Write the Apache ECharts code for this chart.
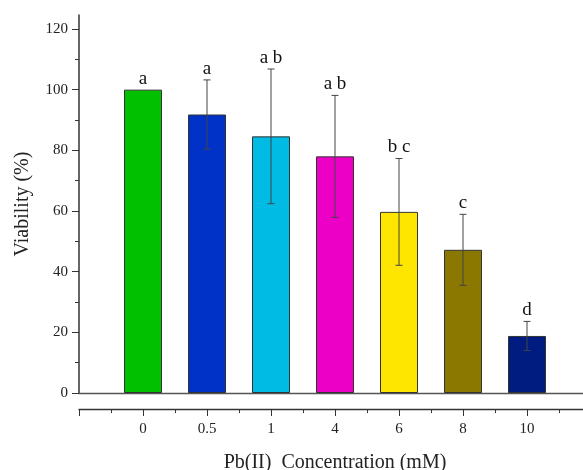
<!DOCTYPE html>
<html>
<head>
<meta charset="utf-8">
<script src="https://cdn.jsdelivr.net/npm/echarts@6/dist/echarts.min.js"></script>
<style>
  html, body { margin: 0; padding: 0; background: #fff; }
  #chart { width: 583px; height: 470px; }
</style>
</head>
<body>
<div id="chart"></div>
<script>
// Pb(II) concentrations (mM) and cell viability (%) with standard deviations
const categories = ['0', '0.5', '1', '4', '6', '8', '10'];
const viability = [100, 91.8, 84.6, 78.0, 59.7, 47.2, 18.8];
const stdDev = [0, 11.4, 22.2, 20.1, 17.6, 11.7, 4.8];
const groupLetters = ['a', 'a', 'a b', 'a b', 'b c', 'c', 'd'];
const barColors = ['#00C000', '#0032C8', '#00BBE3', '#EC00C6', '#FFE600', '#8A7800', '#001C80'];
const yMajorTicks = [0, 20, 40, 60, 80, 100, 120];
const yMinorTicks = [10, 30, 50, 70, 90, 110];

const serif = '"Liberation Serif", "DejaVu Serif", serif';
const axisColor = '#333';

const barData = viability.map((v, i) => ({
  value: [i, v],
  itemStyle: { color: barColors[i] }
}));
const errData = viability.map((v, i) => [i, v, stdDev[i]]);
const letterData = viability.map((v, i) => [i, v + stdDev[i], groupLetters[i]]);

const chart = echarts.init(document.getElementById('chart'), null, { renderer: 'canvas' });

chart.setOption({
  animation: false,
  backgroundColor: '#fff',
  grid: { left: 79, top: 15, width: 512, height: 378, outerBoundsMode: 'none', containLabel: false },
  xAxis: [
    {
      type: 'value', min: -1, max: 7, interval: 1,
      position: 'bottom', offset: 16,
      name: 'Pb(II)  Concentration (mM)', nameLocation: 'middle', nameGap: 44,
      nameTextStyle: { fontFamily: serif, fontSize: 20, color: '#222' },
      axisLine: { show: true, onZero: false, lineStyle: { color: axisColor, width: 1.3 } },
      axisTick: { show: true, inside: false, length: 7, lineStyle: { color: axisColor, width: 1 } },
      minorTick: { show: true, splitNumber: 2, length: 4, lineStyle: { color: axisColor, width: 1 } },
      axisLabel: {
        margin: 13, fontFamily: serif, fontSize: 15, color: '#222',
        formatter: v => (v >= 0 && v < categories.length) ? categories[v] : ''
      },
      splitLine: { show: false }, minorSplitLine: { show: false }
    },
    {
      type: 'value', min: -1, max: 7, interval: 1,
      position: 'bottom', offset: 0,
      axisLine: { show: true, onZero: false, lineStyle: { color: '#555', width: 1.3 } },
      axisTick: { show: false }, axisLabel: { show: false },
      splitLine: { show: false }
    }
  ],
  yAxis: [
    {
      type: 'value', min: 0, max: 124.6, interval: 20,
      position: 'left',
      name: 'Viability (%)', nameLocation: 'middle', nameGap: 46,
      nameTextStyle: { fontFamily: serif, fontSize: 20, color: '#222' },
      axisLine: { show: true, onZero: false, lineStyle: { color: axisColor, width: 1.5 } },
      axisTick: { show: true, length: 7, customValues: yMajorTicks, lineStyle: { color: axisColor, width: 1 } },
      axisLabel: { margin: 11, customValues: yMajorTicks, fontFamily: serif, fontSize: 15, color: '#222' },
      splitLine: { show: false }
    },
    {
      type: 'value', min: 0, max: 124.6, interval: 20,
      position: 'left',
      axisLine: { show: false, onZero: false },
      axisTick: { show: true, length: 4, customValues: yMinorTicks, lineStyle: { color: axisColor, width: 1 } },
      axisLabel: { show: false },
      splitLine: { show: false }
    }
  ],
  series: [
    {
      type: 'bar', xAxisIndex: 0, yAxisIndex: 0,
      barWidth: 38,
      data: barData,
      itemStyle: { borderColor: '#333', borderWidth: 1 }
    },
    {
      // error bars: mean ± SD with caps
      type: 'custom', xAxisIndex: 0, yAxisIndex: 0, z: 5,
      data: errData,
      renderItem: (params, api) => {
        const x = api.value(0), m = api.value(1), s = api.value(2);
        if (!s) return null;
        const top = api.coord([x, m + s]);
        const bot = api.coord([x, m - s]);
        const hw = 3.5;
        const style = { stroke: '#444', lineWidth: 1, fill: null };
        return {
          type: 'group',
          children: [
            { type: 'line', shape: { x1: top[0], y1: top[1], x2: bot[0], y2: bot[1] }, style },
            { type: 'line', shape: { x1: top[0] - hw, y1: top[1], x2: top[0] + hw, y2: top[1] }, style },
            { type: 'line', shape: { x1: bot[0] - hw, y1: bot[1], x2: bot[0] + hw, y2: bot[1] }, style }
          ]
        };
      }
    },
    {
      // significance group letters above each bar
      type: 'custom', xAxisIndex: 0, yAxisIndex: 0, z: 6,
      data: letterData,
      renderItem: (params, api) => {
        const p = api.coord([api.value(0), api.value(1)]);
        return {
          type: 'text',
          style: {
            x: p[0], y: p[1] - 11,
            text: letterData[params.dataIndex][2],
            font: '19px ' + serif,
            fill: '#111',
            align: 'center', verticalAlign: 'middle'
          }
        };
      }
    }
  ]
});
</script>
</body>
</html>
